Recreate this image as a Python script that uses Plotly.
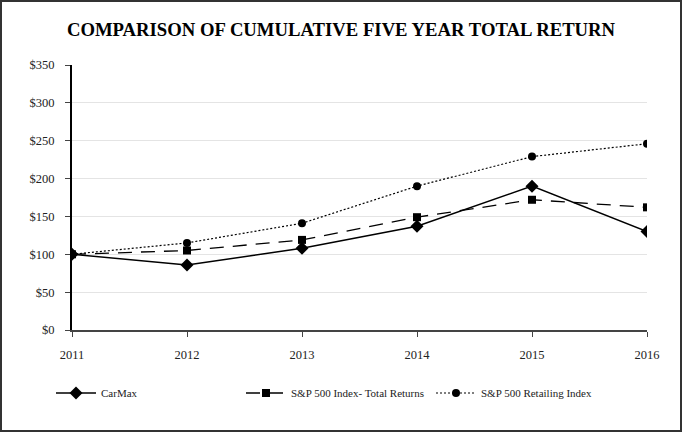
import plotly.graph_objects as go

years = [2011, 2012, 2013, 2014, 2015, 2016]
carmax = [100, 86, 108, 137, 190, 130]
sp500 = [100, 105, 119, 149, 172, 162]
retailing = [100, 115, 141, 190, 229, 246]
y_ticks = [0, 50, 100, 150, 200, 250, 300, 350]
y_labels = ["$" + str(v) for v in y_ticks]

W, H = 682, 432
ml, mr, mt, mb = 72, 35, 65, 102
pw, ph = W - ml - mr, H - mt - mb

font = '"Liberation Serif", "Times New Roman", Times, serif'

fig = go.Figure()
fig.add_trace(go.Scatter(x=years, y=carmax, name="CarMax", mode="lines+markers",
                         line=dict(color="black", width=1.5),
                         marker=dict(symbol="diamond", size=10, color="black")))
fig.add_trace(go.Scatter(x=years, y=sp500, name="S&P 500 Index- Total Returns", mode="lines+markers",
                         line=dict(color="black", width=1.3, dash="14px,9px"),
                         marker=dict(symbol="square", size=8, color="black")))
fig.add_trace(go.Scatter(x=years, y=retailing, name="S&P 500 Retailing Index", mode="lines+markers",
                         line=dict(color="black", width=1.2, dash="2px,2px"),
                         marker=dict(symbol="circle", size=8, color="black")))

def px_x(p):
    return (p - ml) / pw

def px_y(p):
    return (H - mb - p) / ph

fig.add_shape(type="rect", xref="paper", yref="paper",
              x0=px_x(1), x1=px_x(W - 1), y0=px_y(H - 1), y1=px_y(1),
              line=dict(color="#333333", width=2), fillcolor="rgba(0,0,0,0)", layer="below")

fig.update_layout(
    width=W, height=H,
    margin=dict(l=ml, r=mr, t=mt, b=mb),
    paper_bgcolor="white", plot_bgcolor="white",
    font=dict(family=font, size=12, color="#222"),
    title=dict(text="<b>COMPARISON OF CUMULATIVE FIVE YEAR TOTAL RETURN</b>",
               x=0.5, xref="container", xanchor="center",
               y=1 - 29 / H, yref="container", yanchor="middle",
               font=dict(family=font, size=18.7, color="black")),
    showlegend=True,
    legend=dict(orientation="h", xref="container", yref="container",
                x=51 / W, xanchor="left", y=1 - 393 / H, yanchor="middle",
                itemwidth=40, entrywidth=135, entrywidthmode="pixels",
                font=dict(family=font, size=11, color="#222"),
                bgcolor="rgba(0,0,0,0)"),
    xaxis=dict(range=[2011, 2016], tickvals=years, ticktext=[str(y) for y in years],
               showgrid=False, zeroline=False, showline=True, linecolor="#444", linewidth=1.5,
               ticks="outside", ticklen=5, tickcolor="#444", ticklabelstandoff=7,
               tickfont=dict(family=font, size=12.5, color="#222")),
    yaxis=dict(range=[0, 350], tickvals=y_ticks, ticktext=y_labels,
               showgrid=True, gridcolor="#e4e4e4", gridwidth=1, zeroline=False,
               showline=True, linecolor="black", linewidth=2,
               ticks="outside", ticklen=5, tickcolor="#444", ticklabelstandoff=8,
               tickfont=dict(family=font, size=12.5, color="#222")),
)

fig.write_html("out.html", config={"displayModeBar": False},
               post_script="document.body.style.margin='0';document.body.style.overflow='hidden';")
